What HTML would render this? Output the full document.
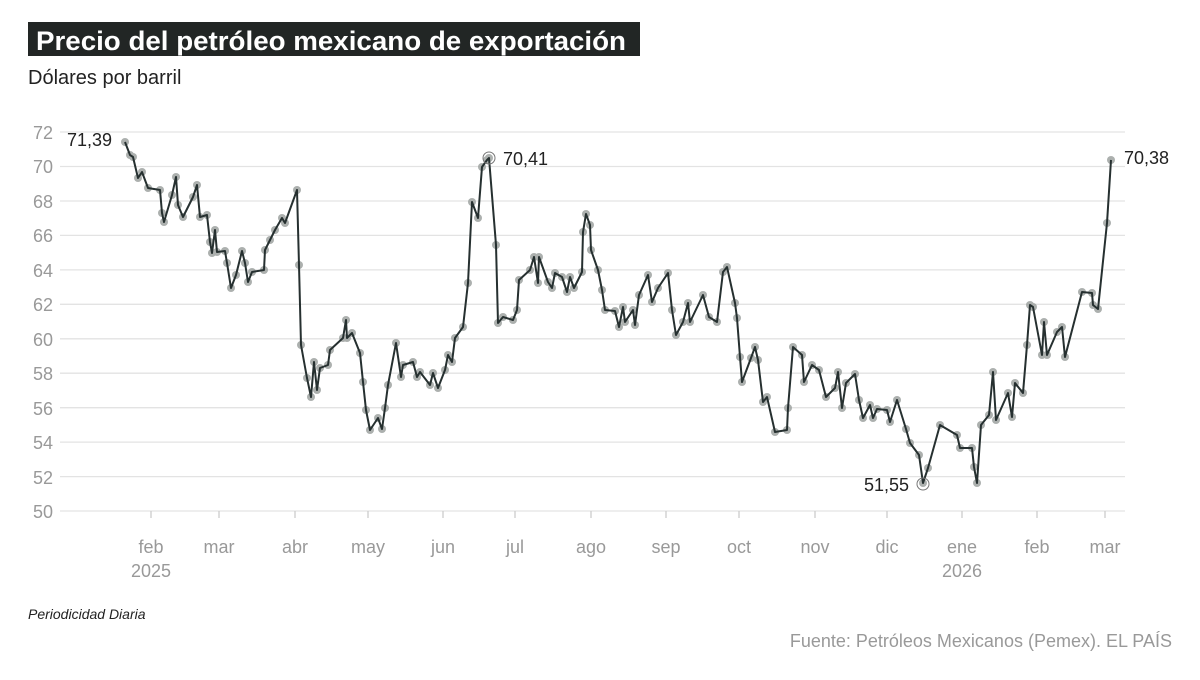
<!DOCTYPE html>
<html><head><meta charset="utf-8"><style>
body{margin:0;background:#fff;width:1200px;height:675px;overflow:hidden;font-family:"Liberation Sans",sans-serif}
</style></head><body>
<svg id="s" width="1200" height="675" xmlns="http://www.w3.org/2000/svg" font-family="Liberation Sans, sans-serif">
<rect x="28" y="22" width="612" height="34" fill="#222625"/>
<text x="36" y="50" font-size="27" font-weight="bold" fill="#fff" textLength="590" lengthAdjust="spacingAndGlyphs">Precio del petróleo mexicano de exportación</text>
<text x="28" y="84" font-size="20" fill="#222">Dólares por barril</text>
<g stroke="#e3e3e3" stroke-width="1.3">
<line x1="60" x2="1125" y1="132" y2="132"/><line x1="60" x2="1125" y1="166.5" y2="166.5"/><line x1="60" x2="1125" y1="201" y2="201"/><line x1="60" x2="1125" y1="235.4" y2="235.4"/><line x1="60" x2="1125" y1="269.9" y2="269.9"/><line x1="60" x2="1125" y1="304.3" y2="304.3"/><line x1="60" x2="1125" y1="338.8" y2="338.8"/><line x1="60" x2="1125" y1="373.2" y2="373.2"/><line x1="60" x2="1125" y1="407.7" y2="407.7"/><line x1="60" x2="1125" y1="442.1" y2="442.1"/><line x1="60" x2="1125" y1="476.6" y2="476.6"/><line x1="60" x2="1125" y1="511" y2="511"/>
</g>
<g fill="#999" font-size="18" text-anchor="end">
<text x="53" y="139">72</text><text x="53" y="173">70</text><text x="53" y="208">68</text><text x="53" y="242">66</text><text x="53" y="277">64</text><text x="53" y="311">62</text><text x="53" y="346">60</text><text x="53" y="380">58</text><text x="53" y="415">56</text><text x="53" y="449">54</text><text x="53" y="484">52</text><text x="53" y="518">50</text>
</g>
<g stroke="#ccc" stroke-width="1.3">
<line x1="151" x2="151" y1="511" y2="518"/><line x1="219" x2="219" y1="511" y2="518"/><line x1="295" x2="295" y1="511" y2="518"/><line x1="368" x2="368" y1="511" y2="518"/><line x1="443" x2="443" y1="511" y2="518"/><line x1="515" x2="515" y1="511" y2="518"/><line x1="591" x2="591" y1="511" y2="518"/><line x1="666" x2="666" y1="511" y2="518"/><line x1="739" x2="739" y1="511" y2="518"/><line x1="815" x2="815" y1="511" y2="518"/><line x1="887" x2="887" y1="511" y2="518"/><line x1="962" x2="962" y1="511" y2="518"/><line x1="1037" x2="1037" y1="511" y2="518"/><line x1="1105" x2="1105" y1="511" y2="518"/>
</g>
<g fill="#999" font-size="18" text-anchor="middle">
<text x="151" y="553">feb</text><text x="151" y="577">2025</text><text x="219" y="553">mar</text><text x="295" y="553">abr</text><text x="368" y="553">may</text><text x="443" y="553">jun</text><text x="515" y="553">jul</text><text x="591" y="553">ago</text><text x="666" y="553">sep</text><text x="739" y="553">oct</text><text x="815" y="553">nov</text><text x="887" y="553">dic</text><text x="962" y="553">ene</text><text x="962" y="577">2026</text><text x="1037" y="553">feb</text><text x="1105" y="553">mar</text>
</g>
<g id="dots" fill="#9ea3a1" opacity="0.85"></g>
<polyline id="L" fill="none" points="125,142 130,155 133,157 138,178 142,172 148,188 160,190 162,213 164,222 172,195 176,177 178,205 183,217 193,197 197,185 200,217 207,215 210,242 212,253 215,230 217,252 225,251 227,263 231,288 236,275 242,251 245,263 248,282 252,272 264,270 265,250 270,240 275,230 282,218 285,223 297,190 299,265 301,345 307,378 311,397 314,362 317,390 320,368 328,365 330,350 343,338 346,320 347,338 352,333 360,353 363,382 366,410 370,430 378,418 382,429 385,408 388,385 396,343 401,377 403,365 413,362 417,377 420,372 430,385 433,373 438,388 445,370 448,355 452,362 455,338 463,327 468,283 472,202 478,218 482,167 487,160 489,158 496,245 498,323 503,317 513,320 517,310 519,280 530,270 534,257 538,283 539,257 548,282 552,288 555,273 562,277 567,292 570,277 574,288 582,272 583,232 586,214 590,225 591,250 598,270 602,290 605,310 615,311 619,327 623,307 625,322 633,310 635,325 639,295 648,275 652,302 658,288 668,273 672,310 676,335 683,322 688,303 690,322 703,295 709,317 717,322 723,272 727,267 735,303 737,318 740,357 742,382 751,358 755,347 758,360 763,402 767,397 775,432 787,430 788,408 793,347 802,355 804,382 812,365 819,370 826,397 835,388 838,372 842,408 846,383 855,374 859,400 863,418 870,405 873,418 877,409 887,410 890,422 897,400 906,429 910,443 919,455 923,483 928,468 940,425 957,435 960,448 972,448 974,467 977,483 981,425 989,415 993,372 996,420 1008,393 1012,417 1015,383 1023,393 1027,345 1030,305 1033,307 1042,355 1044,322 1047,355 1057,332 1062,327 1065,357 1082,292 1092,293 1093,305 1098,309 1107,223 1111,160" stroke="#263030" stroke-width="2" stroke-linejoin="round"/>
<g fill="none" stroke="#777" stroke-width="1">
<circle cx="489" cy="158" r="6"/><circle cx="923" cy="484" r="6"/>
</g>
<g font-size="18" fill="#222">
<text x="67" y="146">71,39</text>
<text x="503" y="165">70,41</text>
<text x="1124" y="164">70,38</text>
<text x="909" y="491" text-anchor="end">51,55</text>
</g>
<text x="28" y="619" font-size="14" font-style="italic" fill="#222">Periodicidad Diaria</text>
<text x="1172" y="647" font-size="18" fill="#999" text-anchor="end">Fuente: Petróleos Mexicanos (Pemex). EL PAÍS</text>
</svg>
<script>
var pts=document.getElementById('L').getAttribute('points').trim().split(/\s+/);
var g=document.getElementById('dots'),h='';
pts.forEach(function(p){var a=p.split(',');h+='<circle cx="'+a[0]+'" cy="'+a[1]+'" r="4"/>';});
g.innerHTML=h;
</script>
</body></html>
